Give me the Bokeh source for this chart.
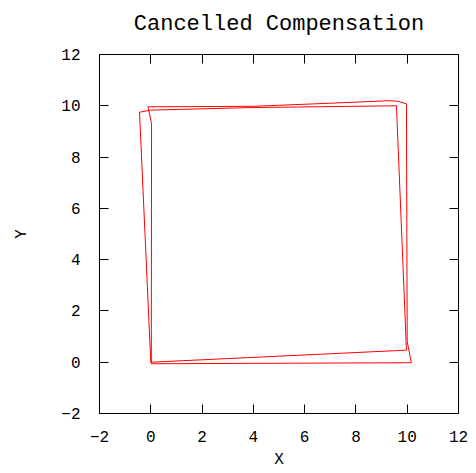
from bokeh.plotting import figure
from bokeh.models import LinearAxis, SingleIntervalTicker
from bokeh.embed import file_html
from bokeh.resources import INLINE

# Path 1 (rotated square)
path1_x = [0.0, 9.97, 9.58, 3.9, 0.0, -0.44, 0.0]
path1_y = [0.0, 0.47, 10.0, 9.93, 9.83, 9.75, 0.0]
# Path 2 (near-axis square)
path2_x = [0.02, 10.16, 10.0, 9.97, 9.6, 9.3, 7.0, 4.0, -0.11, 0.03, 0.02]
path2_y = [-0.06, -0.02, 0.8, 10.08, 10.18, 10.2, 10.1, 9.98, 9.96, 9.3, -0.06]

x_range = (-2, 12)
y_range = (-2, 12)
tick_step = 2

FONT = "Liberation Mono"

p = figure(width=468, height=471, x_range=x_range, y_range=y_range,
           output_backend="svg", toolbar_location=None,
           title="Cancelled Compensation",
           min_border_left=99, min_border_right=10,
           min_border_top=54, min_border_bottom=58)

p.line(path1_x, path1_y, line_color="#ff0000", line_width=1)
p.line(path2_x, path2_y, line_color="#ff0000", line_width=1)

p.title.align = "center"
p.title.vertical_align = "top"
p.title.text_font = FONT
p.title.text_font_size = "22px"
p.title.text_font_style = "normal"
p.title.text_color = "#000000"
p.title.standoff = 23

p.grid.visible = False
p.outline_line_color = "#000000"
p.background_fill_color = "white"

for ax in (p.xaxis[0], p.yaxis[0]):
    ax.ticker = SingleIntervalTicker(interval=tick_step)
    ax.major_tick_in = 9
    ax.major_tick_out = 0
    ax.minor_tick_line_color = None
    ax.axis_line_color = "#000000"
    ax.major_tick_line_color = "#000000"
    ax.major_label_text_font = FONT
    ax.major_label_text_font_size = "16px"
    ax.major_label_text_color = "#000000"
    ax.axis_label_text_font = FONT
    ax.axis_label_text_font_size = "16px"
    ax.axis_label_text_font_style = "normal"
    ax.axis_label_text_color = "#000000"

p.xaxis.axis_label = "X"
p.yaxis.axis_label = "Y"
p.xaxis.major_label_standoff = 13
p.yaxis.major_label_standoff = 15
p.xaxis.axis_label_standoff = 6
p.yaxis.axis_label_standoff = 27

for loc in ("above", "right"):
    ax = LinearAxis(ticker=SingleIntervalTicker(interval=tick_step))
    ax.major_tick_in = 9
    ax.major_tick_out = 0
    ax.minor_tick_line_color = None
    ax.axis_line_color = "#000000"
    ax.major_label_text_font_size = "0px"
    ax.major_label_standoff = 0
    p.add_layout(ax, loc)

open("out.html", "w").write(file_html(p, INLINE))
